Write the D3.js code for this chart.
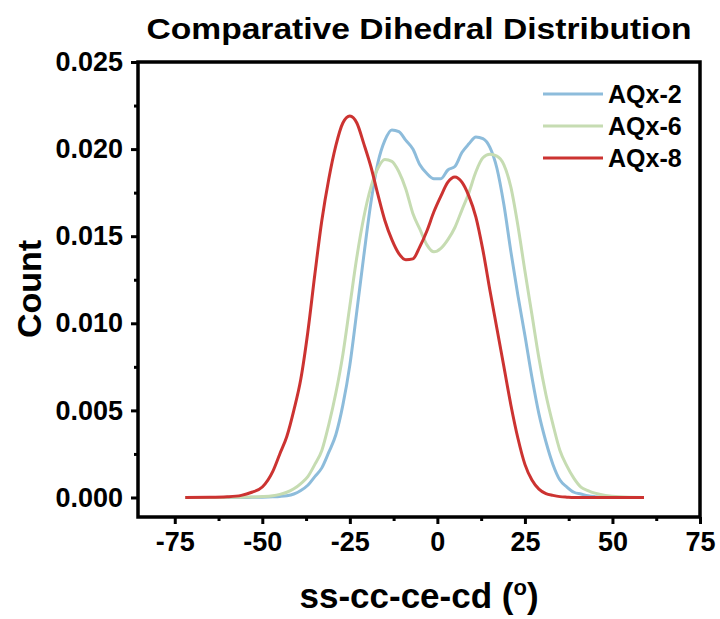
<!DOCTYPE html>
<html>
<head>
<meta charset="utf-8">
<script src="https://cdn.jsdelivr.net/npm/d3@7"></script>
<style>
  body { margin: 0; background: #fff; }
  text { font-family: "Liberation Sans", Arial, sans-serif; font-weight: bold; fill: #000; }
</style>
</head>
<body>
<svg width="720" height="619"></svg>
<script>
// angle grid (degrees) shared by the three series
var angles = [-72, -65, -60, -56, -53, -50, -47, -45, -43, -41, -39, -37, -35, -33, -31, -29, -27, -25, -23, -21,
  -19, -17, -15, -13, -11, -9, -7, -5, -3, -1, 1, 3, 5, 7, 9, 11, 13, 15, 17, 19,
  21, 23, 25, 27, 29, 31, 33, 35, 37, 39, 41, 43, 45, 48, 52, 59]

var aqx2 = [0, 0, 0, 0, 0.00001, 0.00002, 0.00004, 0.00006, 0.0001, 0.0002, 0.0004, 0.0007, 0.0012, 0.0017, 0.0026, 0.0036, 0.0053, 0.0076, 0.0107, 0.0139,
  0.0169, 0.0192, 0.0205, 0.0211, 0.0210, 0.0205, 0.0200, 0.0191, 0.0186, 0.0183, 0.0183, 0.0188, 0.0190, 0.0198, 0.0203, 0.0207, 0.0206, 0.0201, 0.0189, 0.0168,
  0.0141, 0.0116, 0.0093, 0.0069, 0.0048, 0.0032, 0.0019, 0.0010, 0.0006, 0.0003, 0.0002, 0.0001, 0.00005, 0.00002, 0, 0]

var aqx6 = [0, 0, 0.00001, 0.00002, 0.00003, 0.00005, 0.0001, 0.00018, 0.0003, 0.0005, 0.0008, 0.0012, 0.0019, 0.0027, 0.0042, 0.0060, 0.0082, 0.0110, 0.0138, 0.0161,
  0.0178, 0.0189, 0.0194, 0.0193, 0.0187, 0.0177, 0.0163, 0.0154, 0.0145, 0.0141, 0.0143, 0.0148, 0.0155, 0.0165, 0.0175, 0.0187, 0.0195, 0.0197, 0.0196, 0.0191,
  0.0178, 0.0156, 0.0130, 0.0105, 0.0080, 0.0059, 0.0042, 0.0027, 0.0018, 0.0011, 0.0006, 0.0004, 0.00025, 0.00012, 0.00004, 0]

var aqx8 = [0, 0.00001, 0.00004, 0.00012, 0.0003, 0.0006, 0.0015, 0.0025, 0.0035, 0.0050, 0.0068, 0.0095, 0.0128, 0.0159, 0.0183, 0.0202, 0.0215, 0.0219, 0.0215, 0.0203,
  0.0190, 0.0174, 0.0159, 0.0148, 0.0140, 0.01365, 0.0137, 0.0144, 0.0153, 0.0164, 0.0173, 0.0181, 0.0184, 0.0181, 0.0173, 0.0161, 0.0142, 0.0119, 0.0097, 0.0075,
  0.0053, 0.0034, 0.0019, 0.0010, 0.00048, 0.00022, 0.00012, 0.00005, 0.00002, 0, 0, 0, 0, 0, 0, 0]

var seriesNames = ['AQx-2', 'AQx-6', 'AQx-8']
var seriesColors = ['#8dbcdb', '#c6dcb2', '#cc3331']
var xTicks = [-75, -50, -25, 0, 25, 50, 75]
var yTicks = [0, 0.005, 0.010, 0.015, 0.020, 0.025]

var series = [aqx2, aqx6, aqx8]

var svg = d3.select('svg')

var plotLeft = 138, plotRight = 700, plotTop = 62, plotBottom = 517

var x = d3.scaleLinear().domain([-85.5, 75]).range([plotLeft, plotRight])
var y = d3.scaleLinear().domain([-0.00112, 0.025]).range([plotBottom, plotTop])

// title
svg.append('text')
    .attr('x', 419)
    .attr('y', 39)
    .attr('text-anchor', 'middle')
    .attr('textLength', 545)
    .attr('lengthAdjust', 'spacingAndGlyphs')
    .style('font-size', '30px')
    .text('Comparative Dihedral Distribution')

// curves
var line = d3.line()
    .x(function(d){ return x(d[0]) })
    .y(function(d){ return y(d[1]) })
    .curve(d3.curveMonotoneX)

svg.selectAll('path.series')
    .data(series)
    .enter()
    .append('path')
    .attr('class', 'series')
    .attr('fill', 'none')
    .attr('stroke', function(d, i){ return seriesColors[i] })
    .attr('stroke-width', 3)
    .attr('stroke-linejoin', 'round')
    .attr('d', function(d){
        return line(angles.map(function(a, j){ return [a, d[j]] }))
    })

// frame
svg.append('rect')
    .attr('x', plotLeft)
    .attr('y', plotTop)
    .attr('width', plotRight - plotLeft)
    .attr('height', plotBottom - plotTop)
    .attr('fill', 'none')
    .attr('stroke', '#000')
    .attr('stroke-width', 3.5)

// x axis
var xAxis = d3.axisBottom(x)
    .tickValues(xTicks)
    .tickSize(7)
    .tickPadding(8)
    .tickFormat(function(d){ return String(d) })

var gx = svg.append('g')
    .attr('transform', 'translate(0,' + plotBottom + ')')
    .call(xAxis)
gx.select('.domain').remove()
gx.selectAll('line').attr('stroke-width', 3)
gx.selectAll('text').style('font-size', '27px').attr('font-family', null)

var xMinor = d3.axisBottom(x)
    .tickValues([-62.5, -37.5, -12.5, 12.5, 37.5, 62.5])
    .tickSize(4)
    .tickFormat('')
var gxm = svg.append('g')
    .attr('transform', 'translate(0,' + plotBottom + ')')
    .call(xMinor)
gxm.select('.domain').remove()
gxm.selectAll('line').attr('stroke-width', 3)

// y axis
var yAxis = d3.axisLeft(y)
    .tickValues(yTicks)
    .tickSize(7)
    .tickPadding(8)
    .tickFormat(d3.format('.3f'))

var gy = svg.append('g')
    .attr('transform', 'translate(' + plotLeft + ',0)')
    .call(yAxis)
gy.select('.domain').remove()
gy.selectAll('line').attr('stroke-width', 3)
gy.selectAll('text').style('font-size', '27px').attr('font-family', null)

var yMinor = d3.axisLeft(y)
    .tickValues([0.0025, 0.0075, 0.0125, 0.0175, 0.0225])
    .tickSize(4)
    .tickFormat('')
var gym = svg.append('g')
    .attr('transform', 'translate(' + plotLeft + ',0)')
    .call(yMinor)
gym.select('.domain').remove()
gym.selectAll('line').attr('stroke-width', 3)

// axis titles
svg.append('text')
    .attr('transform', 'translate(41,' + 289 + ') rotate(-90)')
    .attr('text-anchor', 'middle')
    .style('font-size', '34px')
    .text('Count')

var xt = svg.append('text')
    .attr('x', 419)
    .attr('y', 608)
    .attr('text-anchor', 'middle')
    .style('font-size', '35px')
xt.append('tspan').text('ss-cc-ce-cd (')
xt.append('tspan').attr('dy', -13).style('font-size', '22px').text('o')
xt.append('tspan').attr('dy', 13).text(')')

// legend
var legend = svg.selectAll('g.legend')
    .data(seriesNames)
    .enter()
    .append('g')
    .attr('class', 'legend')
    .attr('transform', function(d, i){ return 'translate(543,' + (94 + i * 32) + ')' })

legend.append('line')
    .attr('x1', 0)
    .attr('x2', 60)
    .attr('stroke', function(d, i){ return seriesColors[i] })
    .attr('stroke-width', 3)

legend.append('text')
    .attr('x', 65)
    .attr('dy', '0.36em')
    .style('font-size', '25px')
    .text(function(d){ return d })
</script>
</body>
</html>
